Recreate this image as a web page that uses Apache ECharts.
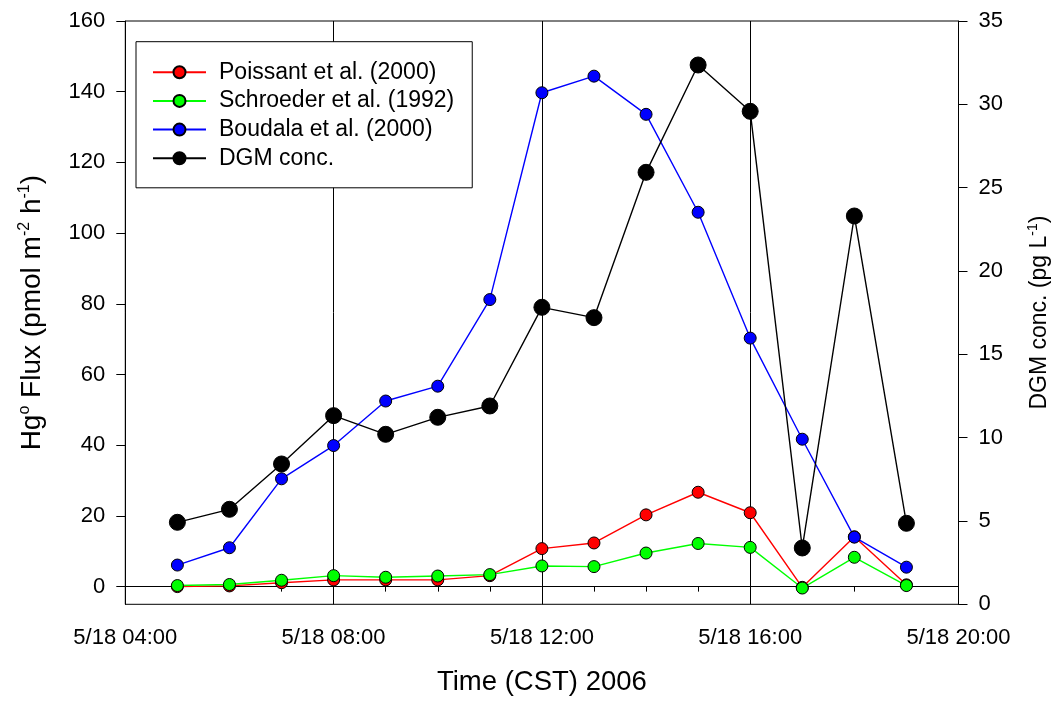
<!DOCTYPE html>
<html>
<head>
<meta charset="utf-8">
<script src="https://cdn.jsdelivr.net/npm/echarts@6/dist/echarts.min.js"></script>
<style>
  html, body { margin: 0; padding: 0; background: #fff; }
  #chart { width: 1059px; height: 705px; }
</style>
</head>
<body>
<div id="chart"></div>
<script>
// Hour of day (CST, 18 May 2006) for each sample
const hours = [5, 6, 7, 8, 9, 10, 11, 12, 13, 14, 15, 16, 17, 18, 19];

// Hg0 flux estimates (pmol m-2 h-1) from three parameterisations
const poissant  = [0.0, 0.2, 1.1, 1.9, 1.9, 1.9, 3.1, 10.75, 12.35, 20.3, 26.7, 20.9, -0.2, 14.1, 0.5];
const schroeder = [0.3, 0.6, 1.8, 3.1, 2.65, 3.0, 3.4, 5.85, 5.66, 9.5, 12.2, 11.1, -0.4, 8.3, 0.3];
const boudala   = [6.1, 11.0, 30.5, 39.9, 52.5, 56.7, 81.2, 139.7, 144.4, 133.6, 105.9, 70.3, 41.7, 14.0, 5.5];

// Dissolved gaseous mercury (pg L-1), right axis
const dgm = [4.92, 5.70, 8.42, 11.32, 10.2, 11.22, 11.9, 17.82, 17.2, 25.92, 32.36, 29.58, 3.38, 23.3, 4.86];

// Time axis labels every 4 hours, flux axis labels
const timeTickHours = [4, 8, 12, 16, 20];
const timeTickLabels = ['5/18 04:00', '5/18 08:00', '5/18 12:00', '5/18 16:00', '5/18 20:00'];
const fluxTicks = [0, 20, 40, 60, 80, 100, 120, 140, 160];

const FONT = '"Liberation Sans", Arial, Helvetica, sans-serif';

function pairs(vals) {
  return hours.map((h, i) => [h, vals[i]]);
}

const chart = echarts.init(document.getElementById('chart'), null, { renderer: 'canvas' });

const flux = (name, color, vals) => ({
  name: name,
  type: 'line',
  yAxisIndex: 0,
  data: pairs(vals),
  symbol: 'circle',
  symbolSize: 12,
  lineStyle: { color: color, width: 1.4 },
  itemStyle: { color: color, borderColor: '#000', borderWidth: 1 },
  emphasis: { disabled: true }
});

chart.setOption({
  animation: false,
  backgroundColor: '#fff',
  textStyle: { fontFamily: FONT, color: '#000' },
  grid: {
    left: 125.3, right: 99.7, top: 21, bottom: 100.7,
    show: true, borderColor: '#000', borderWidth: 1, backgroundColor: 'transparent'
  },
  legend: {
    left: 136, top: 41.7,
    orient: 'vertical',
    padding: [19, 18, 18, 16],
    itemWidth: 53, itemHeight: 15, itemGap: 5.7,
    backgroundColor: '#fff', borderColor: '#000', borderWidth: 1, borderRadius: 0,
    textStyle: { fontFamily: FONT, fontSize: 23, color: '#000', padding: [0, 0, 0, 8] },
    data: ['Poissant et al. (2000)', 'Schroeder et al. (1992)', 'Boudala et al. (2000)', 'DGM conc.']
  },
  xAxis: {
    type: 'value',
    min: 4, max: 20, interval: 4,
    name: 'Time (CST) 2006',
    nameLocation: 'middle', nameGap: 64,
    nameTextStyle: { fontFamily: FONT, fontSize: 27.5, color: '#000' },
    axisLine: { show: true, lineStyle: { color: '#000', width: 1 } },
    axisTick: { show: true, length: 9, lineStyle: { color: '#000', width: 1 } },
    minorTick: { show: true, splitNumber: 4, length: 5, lineStyle: { color: '#000', width: 1 } },
    axisLabel: {
      margin: 23, fontFamily: FONT, fontSize: 22, color: '#000',
      formatter: v => timeTickLabels[timeTickHours.indexOf(v)] || ''
    },
    splitLine: { show: true, lineStyle: { color: '#000', width: 1 } }
  },
  yAxis: [
    {
      type: 'value',
      min: -5, max: 160,
      position: 'left',
      name: '{n|Hg}{s|o}{n| Flux (pmol m}{s|-2}{n| h}{s|-1}{n|)}',
      nameLocation: 'middle', nameGap: 78, nameRotate: 90,
      nameTextStyle: {
        fontFamily: FONT, color: '#000',
        rich: {
          n: { fontFamily: FONT, fontSize: 28, color: '#000', lineHeight: 31 },
          s: { fontFamily: FONT, fontSize: 16, color: '#000', verticalAlign: 'top', lineHeight: 16 }
        }
      },
      axisLine: { show: true, lineStyle: { color: '#000', width: 1 } },
      axisTick: { show: true, length: 9, customValues: fluxTicks, lineStyle: { color: '#000', width: 1 } },
      axisLabel: { margin: 20, fontFamily: FONT, fontSize: 22, color: '#000', customValues: fluxTicks },
      splitLine: { show: false }
    },
    {
      type: 'value',
      min: 0, max: 35, interval: 5,
      position: 'right',
      name: '{n|DGM conc. (pg L}{s|-1}{n|)}',
      nameLocation: 'middle', nameGap: 68, nameRotate: 90,
      nameTextStyle: {
        fontFamily: FONT, color: '#000',
        rich: {
          n: { fontFamily: FONT, fontSize: 23, color: '#000', lineHeight: 26 },
          s: { fontFamily: FONT, fontSize: 14, color: '#000', verticalAlign: 'top', lineHeight: 14 }
        }
      },
      axisLine: { show: true, lineStyle: { color: '#000', width: 1 } },
      axisTick: { show: true, length: 9, lineStyle: { color: '#000', width: 1 } },
      axisLabel: { margin: 20, fontFamily: FONT, fontSize: 22, color: '#000' },
      splitLine: { show: false }
    }
  ],
  series: [
    flux('Poissant et al. (2000)', '#ff0000', poissant),
    flux('Schroeder et al. (1992)', '#00ff00', schroeder),
    flux('Boudala et al. (2000)', '#0000ff', boudala),
    {
      name: 'DGM conc.',
      type: 'line',
      yAxisIndex: 1,
      data: pairs(dgm),
      symbol: 'circle',
      symbolSize: 16,
      lineStyle: { color: '#000', width: 1.4 },
      itemStyle: { color: '#000', borderColor: '#000', borderWidth: 1 },
      emphasis: { disabled: true }
    }
  ]
});
</script>
</body>
</html>
